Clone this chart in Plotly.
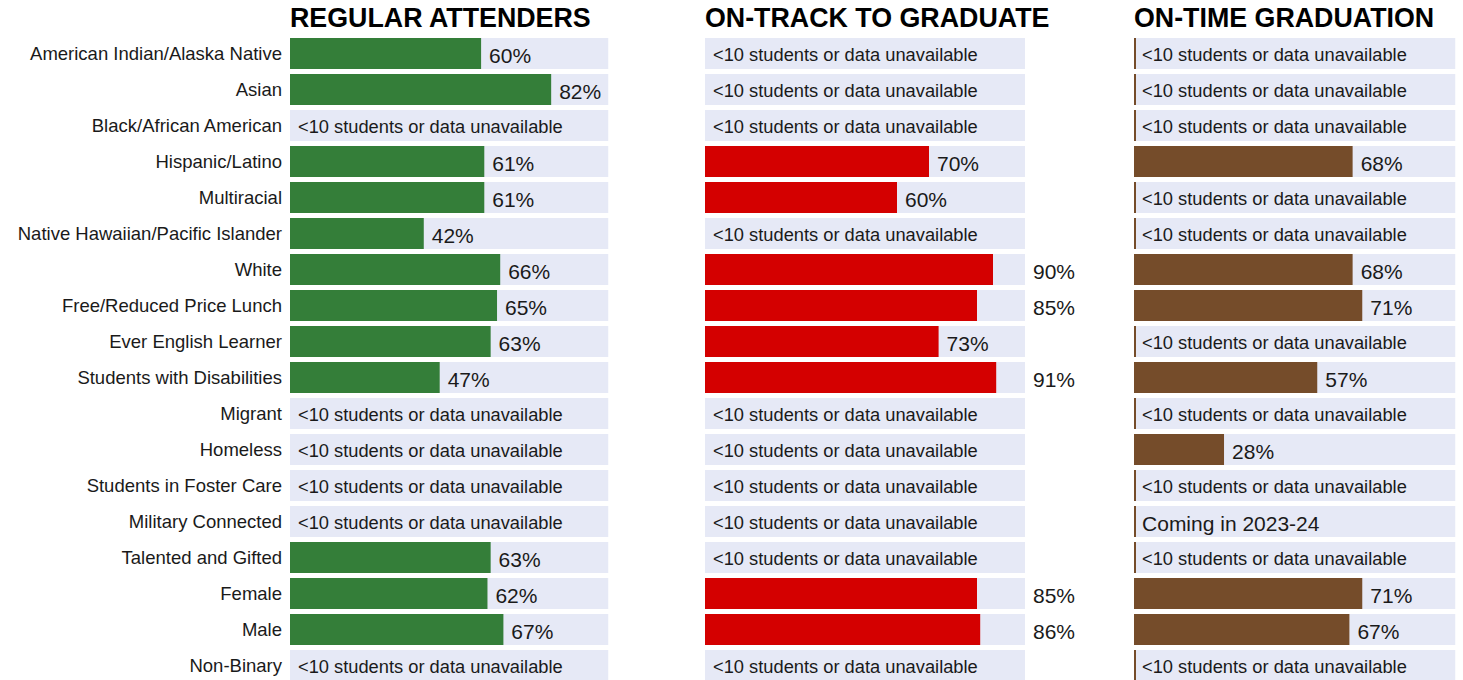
import plotly.graph_objects as go

# ---------------- data ----------------
categories = [
    "American Indian/Alaska Native", "Asian", "Black/African American",
    "Hispanic/Latino", "Multiracial", "Native Hawaiian/Pacific Islander",
    "White", "Free/Reduced Price Lunch", "Ever English Learner",
    "Students with Disabilities", "Migrant", "Homeless",
    "Students in Foster Care", "Military Connected", "Talented and Gifted",
    "Female", "Male", "Non-Binary",
]
regular_attenders = [60, 82, None, 61, 61, 42, 66, 65, 63, 47, None, None, None, None, 63, 62, 67, None]
on_track = [None, None, None, 70, 60, None, 90, 85, 73, 91, None, None, None, None, None, 85, 86, None]
on_time = [None, None, None, 68, None, None, 68, 71, None, 57, None, 28, None, None, None, 71, 67, None]
on_time_notes = [None, None, None, None, None, None, None, None, None, None, None, None, None,
                 "Coming in 2023-24", None, None, None, None]
titles = ["REGULAR ATTENDERS", "ON-TRACK TO GRADUATE", "ON-TIME GRADUATION"]
NA_TEXT = "<10 students or data unavailable"

# ---------------- style ----------------
W, H = 1463, 680
FONT = "Arial, 'Liberation Sans', sans-serif"
TXT = "#1a1a1a"
BAND = "#E6E9F6"
colors = ["#347E39", "#D40000", "#754C2A"]
col_start = [290, 705, 1134]
px_unit = [3.185, 3.2, 3.215]
x_upper = [100, 118, 100]
STUB = 0.5  # thin marker shown for missing rows in the last column
BAR_W = 31 / 36
PCT_DY = 0.13
NA_DY = 0.07

series = [regular_attenders, on_track, on_time]
notes = [[None] * len(categories), [None] * len(categories), on_time_notes]
stub = [False, False, True]

ypos = list(range(len(categories)))
fig = go.Figure()

for c in range(3):
    xa = "x" if c == 0 else f"x{c+1}"
    vals = series[c]
    # background band
    fig.add_trace(go.Bar(x=[100] * len(ypos), y=ypos, orientation="h", width=BAR_W,
                         marker=dict(color=BAND, line=dict(width=0)),
                         xaxis=xa, yaxis="y", hoverinfo="skip", showlegend=False))
    # values
    bx, by = [], []
    for i, v in enumerate(vals):
        if v is not None:
            bx.append(v); by.append(i)
        elif stub[c]:
            bx.append(STUB); by.append(i)
    fig.add_trace(go.Bar(x=bx, y=by, orientation="h", width=BAR_W,
                         marker=dict(color=colors[c], line=dict(width=0)),
                         xaxis=xa, yaxis="y", showlegend=False,
                         hovertemplate="%{x}%<extra></extra>"))
    # percent labels
    lx, ly, lt = [], [], []
    for i, v in enumerate(vals):
        if v is not None:
            lx.append(v + 2.5 if v + 15.5 <= 100 else 102.5)
            ly.append(i + PCT_DY)
            lt.append(f"{v}%")
    fig.add_trace(go.Scatter(x=lx, y=ly, text=lt, mode="text", textposition="middle right",
                             textfont=dict(family=FONT, size=21, color=TXT), cliponaxis=False,
                             xaxis=xa, yaxis="y", hoverinfo="skip", showlegend=False))
    # missing-data text
    nx, ny, nt, ns = [], [], [], []
    for i, v in enumerate(vals):
        if v is None:
            note = notes[c][i]
            nx.append(2.5)
            ny.append(i + (PCT_DY if note else NA_DY))
            nt.append(note if note else NA_TEXT)
            ns.append(21 if note else 18.3)
    fig.add_trace(go.Scatter(x=nx, y=ny, text=nt, mode="text", textposition="middle right",
                             textfont=dict(family=FONT, size=ns, color=TXT), cliponaxis=False,
                             xaxis=xa, yaxis="y", hoverinfo="skip", showlegend=False))

layout = dict(
    width=W, height=H,
    margin=dict(l=0, r=0, t=0, b=0),
    paper_bgcolor="white", plot_bgcolor="rgba(0,0,0,0)",
    barmode="overlay",
    font=dict(family=FONT, color=TXT),
    yaxis=dict(domain=[0, 1], anchor="x",
               range=[(H - 53.5) / 36, -53.5 / 36],
               tickmode="array", tickvals=ypos, ticktext=categories,
               ticks="", ticklabelstandoff=7, showgrid=False, zeroline=False, showline=False,
               tickfont=dict(family=FONT, size=18.5, color=TXT)),
    annotations=[],
)
for c in range(3):
    key = "xaxis" if c == 0 else f"xaxis{c+1}"
    d0 = col_start[c] / W
    d1 = min(1.0, (col_start[c] + px_unit[c] * x_upper[c]) / W)
    layout[key] = dict(domain=[d0, d1], range=[0, x_upper[c]], anchor="y",
                       showticklabels=False, showgrid=False, zeroline=False, showline=False,
                       ticks="", fixedrange=True)
    layout["annotations"].append(dict(
        text=f"<b>{titles[c]}</b>", xref="paper", yref="paper",
        x=d0 - 0.0012, y=1 - 18 / H, xanchor="left", yanchor="middle", showarrow=False,
        font=dict(family=FONT, size=26.8, color="#000000")))

fig.update_layout(**layout)
fig.write_html("out.html", config={"displayModeBar": False},
               post_script="document.body.style.margin='0';document.body.style.overflow='hidden';")
